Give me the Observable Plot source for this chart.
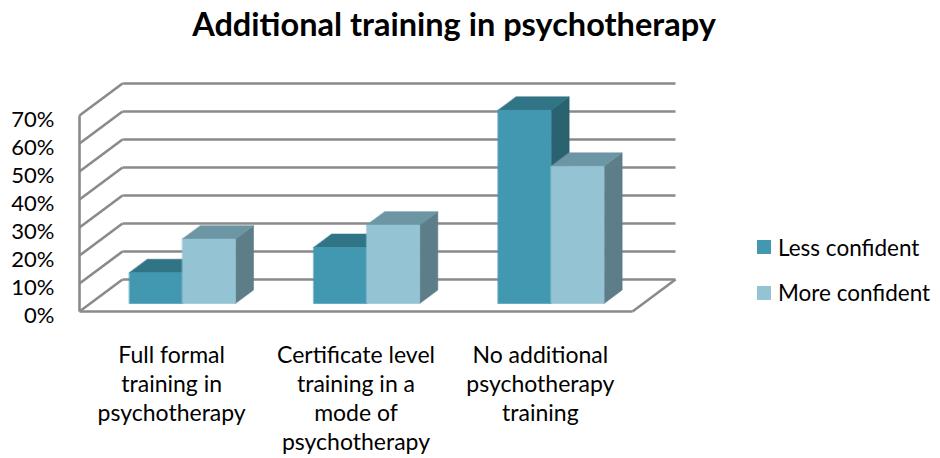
<!DOCTYPE html>
<html>
<head>
<meta charset="utf-8">
<script src="https://cdn.jsdelivr.net/npm/d3@7"></script>
<script src="https://cdn.jsdelivr.net/npm/@observablehq/plot@0.6"></script>
<style>
  html, body { margin: 0; padding: 0; background: #fff; }
  #wrap { position: relative; width: 940px; height: 458px; font-family: Lato, "Open Sans", sans-serif; color: #000; }
  #title { position: absolute; left: 0; top: 4px; width: 908px; text-align: center; font-weight: bold; font-size: 32.5px; line-height: 40px; }
  #chart { position: absolute; left: 0; top: 60px; }
  #legend { position: absolute; left: 757px; top: 232px; font-size: 22.5px; }
  .row { display: flex; align-items: center; height: 30px; margin-bottom: 15.5px; white-space: nowrap; }
  .sw { width: 14px; height: 14px; margin-right: 7px; flex: none; }
</style>
</head>
<body>
<div id="wrap">
  <div id="title">Additional training in psychotherapy</div>
  <div id="chart"></div>
  <div id="legend"></div>
</div>
<script>
// ---- data ----
const categories = [
  "Full formal\ntraining in\npsychotherapy",
  "Certificate level\ntraining in a\nmode of\npsychotherapy",
  "No additional\npsychotherapy\ntraining"
];
const seriesNames = ["Less confident", "More confident"];
const lessConfident = [11, 20, 69];
const moreConfident = [23, 28, 49];
const yTicks = [0, 10, 20, 30, 40, 50, 60, 70];

// ---- styling / geometry (not data) ----
const palette = {
  "Less confident": {front: "#4298b0", top: "#307486", side: "#2a6270"},
  "More confident": {front: "#94c3d4", top: "#6c96a3", side: "#5d7d89"}
};
const gridColor = "#8a8a8a";
const DX = 0.2333;   // depth offset in x units (categories)
const DY = 11.43;    // depth offset in y units (%)
const barW = 0.2875; // bar width in category units
const d0 = 0.25, d1 = 0.67; // bar depth extent (0 = front, 1 = back)
const proj = (x, y, d) => ({x: x + d * DX, y: y + d * DY});

// ---- build bar faces from data ----
const faces = [];
categories.forEach((c, i) => {
  const vals = [lessConfident[i], moreConfident[i]];
  seriesNames.forEach((s, k) => {
    const v = vals[k];
    const x0 = i + 0.5 + (k - 1) * barW, x1 = x0 + barW;
    const col = palette[s];
    faces.push({fill: col.side, pts: [proj(x1, 0, d0), proj(x1, 0, d1), proj(x1, v, d1), proj(x1, v, d0)]});
    faces.push({fill: col.top, pts: [proj(x0, v, d0), proj(x1, v, d0), proj(x1, v, d1), proj(x0, v, d1)]});
    faces.push({fill: col.front, pts: [proj(x0, 0, d0), proj(x1, 0, d0), proj(x1, v, d0), proj(x0, v, d0)]});
  });
});

const nCat = categories.length;
const yMax = yTicks[yTicks.length - 1];
const backLines = yTicks.map(v => ({a: proj(0, v, 1), b: proj(nCat, v, 1)}));
const sideLines = yTicks.map(v => ({a: proj(0, v, 0), b: proj(0, v, 1)}));
const edges = [
  {a: proj(0, 0, 0), b: proj(0, yMax, 0)},
  {a: proj(0, 0, 0), b: proj(nCat, 0, 0)},
  {a: proj(nCat, 0, 0), b: proj(nCat, 0, 1)}
];
const linkOpts = {x1: d => d.a.x, y1: d => d.a.y, x2: d => d.b.x, y2: d => d.b.y, stroke: gridColor, strokeWidth: 2.6};

const marks = [
  Plot.link(backLines, linkOpts),
  Plot.link(sideLines, linkOpts),
  Plot.link(edges, linkOpts),
  ...faces.map(f => Plot.line(f.pts, {x: "x", y: "y", fill: f.fill, stroke: f.fill, strokeWidth: 0.6, curve: "linear-closed"})),
  Plot.axisY(yTicks, {label: null, tickFormat: d => d + "%", tickSize: 0, tickPadding: 25, dy: 4, fontSize: 22, fill: "#000"}),
  Plot.axisX(d3.range(nCat).map(i => i + 0.5), {label: null, tickFormat: t => categories[Math.floor(t)], tickSize: 0, tickPadding: 31, fontSize: 23, lineHeight: 1.26, fill: "#000"})
];

const chart = Plot.plot({
  width: 940,
  height: 398,
  marginLeft: 79,
  marginRight: 308,
  marginTop: 55,
  marginBottom: 147,
  style: {fontFamily: "Lato, 'Open Sans', sans-serif", color: "#000", background: "#fff", overflow: "visible"},
  x: {domain: [0, nCat], axis: null},
  y: {domain: [0, yMax], axis: null},
  marks
});
document.getElementById("chart").appendChild(chart);

const legend = document.getElementById("legend");
seriesNames.forEach(s => {
  const row = document.createElement("div");
  row.className = "row";
  const sw = document.createElement("span");
  sw.className = "sw";
  sw.style.background = palette[s].front;
  const t = document.createElement("span");
  t.textContent = s;
  row.appendChild(sw); row.appendChild(t);
  legend.appendChild(row);
});
</script>
</body>
</html>
